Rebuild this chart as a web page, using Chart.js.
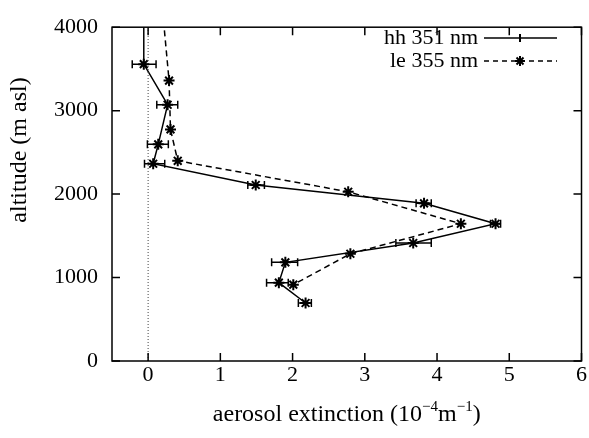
<!DOCTYPE html>
<html>
<head>
<meta charset="utf-8">
<script src="https://cdn.jsdelivr.net/npm/chart.js@4/dist/chart.umd.min.js"></script>
<style>
  html, body { margin: 0; padding: 0; background: #fff; }
  #wrap { width: 589px; height: 438px; }
</style>
</head>
<body>
<div id="wrap"><canvas id="c" width="589" height="438"></canvas></div>
<script>
// hh 351 nm (solid, with x error bars)
const hhAlt = [4200, 3557, 3071, 2596, 2364, 2109, 1889, 1645, 1414, 1182, 939, 695];
const hhExt = [-0.06, -0.06, 0.27, 0.14, 0.07, 1.49, 3.82, 4.81, 3.67, 1.90, 1.81, 2.18];
const hhErrLow = [null, -0.22, 0.12, -0.01, -0.05, 1.38, 3.71, 4.74, 3.43, 1.71, 1.64, 2.08];
const hhErrHigh = [null, 0.11, 0.41, 0.28, 0.23, 1.61, 3.92, 4.88, 3.92, 2.07, 1.94, 2.26];

// le 355 nm (dashed, stars)
const leAlt = [4200, 3360, 2775, 2399, 2028, 1645, 1285, 915];
const leExt = [0.20, 0.29, 0.31, 0.41, 2.77, 4.33, 2.80, 2.01];

const xTicks = [0, 1, 2, 3, 4, 5, 6];
const yTicks = [0, 1000, 2000, 3000, 4000];

const serif = '"Liberation Serif", "DejaVu Serif", serif';

const toPts = (xs, ys) => xs.map((x, i) => ({ x: x, y: ys[i] }));

// horizontal error bars for the hh series
const errorBars = {
  id: 'errorBars',
  afterDatasetsDraw(chart) {
    const ctx = chart.ctx;
    const xs = chart.scales.x, ys = chart.scales.y;
    const a = chart.chartArea;
    ctx.save();
    ctx.beginPath();
    ctx.rect(a.left, a.top, a.right - a.left, a.bottom - a.top);
    ctx.clip();
    ctx.strokeStyle = '#000';
    ctx.lineWidth = 1.5;
    hhAlt.forEach((alt, i) => {
      if (hhErrLow[i] == null) return;
      const y = ys.getPixelForValue(alt);
      const x1 = xs.getPixelForValue(hhErrLow[i]);
      const x2 = xs.getPixelForValue(hhErrHigh[i]);
      ctx.beginPath();
      ctx.moveTo(x1, y); ctx.lineTo(x2, y);
      ctx.moveTo(x1, y - 4); ctx.lineTo(x1, y + 4);
      ctx.moveTo(x2, y - 4); ctx.lineTo(x2, y + 4);
      ctx.stroke();
    });
    ctx.restore();
  }
};

// gnuplot style frame, inward mirrored ticks, titles and key
const frame = {
  id: 'frame',
  afterDraw(chart) {
    const ctx = chart.ctx;
    const a = chart.chartArea;
    const xs = chart.scales.x, ys = chart.scales.y;
    ctx.save();
    ctx.strokeStyle = '#000';
    ctx.lineWidth = 1.5;
    ctx.strokeRect(a.left, a.top, a.right - a.left, a.bottom - a.top);
    ctx.beginPath();
    xTicks.forEach(v => {
      const x = xs.getPixelForValue(v);
      ctx.moveTo(x, a.bottom); ctx.lineTo(x, a.bottom - 8);
      ctx.moveTo(x, a.top); ctx.lineTo(x, a.top + 8);
    });
    yTicks.forEach(v => {
      const y = ys.getPixelForValue(v);
      ctx.moveTo(a.left, y); ctx.lineTo(a.left + 8, y);
      ctx.moveTo(a.right, y); ctx.lineTo(a.right - 8, y);
    });
    ctx.stroke();

    // axis titles
    ctx.fillStyle = '#000';
    ctx.textBaseline = 'alphabetic';
    const main = 'aerosol extinction (10';
    const sup1 = '\u22124';
    const mid = 'm';
    const sup2 = '\u22121';
    const end = ')';
    const bigFont = '24px ' + serif;
    const supFont = '15px ' + serif;
    ctx.font = bigFont;
    const wMain = ctx.measureText(main).width;
    const wMid = ctx.measureText(mid).width;
    const wEnd = ctx.measureText(end).width;
    ctx.font = supFont;
    const wS1 = ctx.measureText(sup1).width;
    const wS2 = ctx.measureText(sup2).width;
    const total = wMain + wS1 + wMid + wS2 + wEnd;
    let x = (a.left + a.right) / 2 - total / 2;
    const base = 421;
    ctx.textAlign = 'left';
    ctx.font = bigFont; ctx.fillText(main, x, base); x += wMain;
    ctx.font = supFont; ctx.fillText(sup1, x, base - 10); x += wS1;
    ctx.font = bigFont; ctx.fillText(mid, x, base); x += wMid;
    ctx.font = supFont; ctx.fillText(sup2, x, base - 10); x += wS2;
    ctx.font = bigFont; ctx.fillText(end, x, base);

    ctx.save();
    ctx.translate(26, 150);
    ctx.rotate(-Math.PI / 2);
    ctx.textAlign = 'center';
    ctx.fillText('altitude (m asl)', 0, 0);
    ctx.restore();

    // key
    const keyRows = [
      { label: 'hh 351 nm', dash: [], mark: 'bar', y: 38 },
      { label: 'le 355 nm', dash: [5, 4], mark: 'star', y: 61 }
    ];
    ctx.font = '22px ' + serif;
    ctx.textAlign = 'right';
    ctx.textBaseline = 'middle';
    keyRows.forEach(r => {
      ctx.fillText(r.label, 478, r.y);
      ctx.setLineDash(r.dash);
      ctx.lineWidth = 1.5;
      ctx.beginPath();
      ctx.moveTo(484, r.y); ctx.lineTo(557, r.y);
      ctx.stroke();
      ctx.setLineDash([]);
      ctx.beginPath();
      const cx = 520;
      if (r.mark === 'bar') {
        ctx.moveTo(cx, r.y - 4); ctx.lineTo(cx, r.y + 4);
      } else {
        const s = 5;
        ctx.moveTo(cx - s, r.y); ctx.lineTo(cx + s, r.y);
        ctx.moveTo(cx, r.y - s); ctx.lineTo(cx, r.y + s);
        ctx.moveTo(cx - s * 0.7, r.y - s * 0.7); ctx.lineTo(cx + s * 0.7, r.y + s * 0.7);
        ctx.moveTo(cx - s * 0.7, r.y + s * 0.7); ctx.lineTo(cx + s * 0.7, r.y - s * 0.7);
      }
      ctx.lineWidth = 2;
      ctx.stroke();
    });
    ctx.restore();
  }
};

new Chart(document.getElementById('c'), {
  type: 'scatter',
  data: {
    datasets: [
      {
        label: 'zero',
        data: [{ x: 0, y: 0 }, { x: 0, y: 4000 }],
        showLine: true,
        borderColor: '#444',
        borderWidth: 1,
        borderDash: [1, 2],
        pointRadius: 0
      },
      {
        label: 'le 355 nm',
        data: toPts(leExt, leAlt),
        showLine: true,
        borderColor: '#000',
        borderWidth: 1.5,
        borderDash: [6, 4],
        pointStyle: 'star',
        pointRadius: 5.5,
        pointBorderWidth: 2,
        pointBorderColor: '#000',
        pointBackgroundColor: '#000'
      },
      {
        label: 'hh 351 nm',
        data: toPts(hhExt, hhAlt),
        showLine: true,
        borderColor: '#000',
        borderWidth: 1.5,
        pointStyle: 'star',
        pointRadius: 5.5,
        pointBorderWidth: 2,
        pointBorderColor: '#000',
        pointBackgroundColor: '#000'
      }
    ]
  },
  options: {
    responsive: false,
    animation: false,
    layout: { padding: { top: 16, right: 5, left: 0, bottom: 0 } },
    plugins: { legend: { display: false }, tooltip: { enabled: false } },
    scales: {
      x: {
        type: 'linear',
        min: -0.5,
        max: 6,
        afterBuildTicks: s => { s.ticks = xTicks.map(v => ({ value: v })); },
        afterFit: s => { s.height = 77; },
        grid: { display: false, drawTicks: false },
        border: { display: false },
        ticks: { color: '#000', font: { family: serif, size: 22 }, padding: 1, maxRotation: 0, callback: v => String(v) }
      },
      y: {
        type: 'linear',
        min: 0,
        max: 4000,
        afterBuildTicks: s => { s.ticks = yTicks.map(v => ({ value: v })); },
        afterFit: s => { s.width = 112; },
        grid: { display: false, drawTicks: false },
        border: { display: false },
        ticks: { color: '#000', font: { family: serif, size: 22 }, padding: 14, callback: v => String(v) }
      }
    }
  },
  plugins: [errorBars, frame]
});
</script>
</body>
</html>
